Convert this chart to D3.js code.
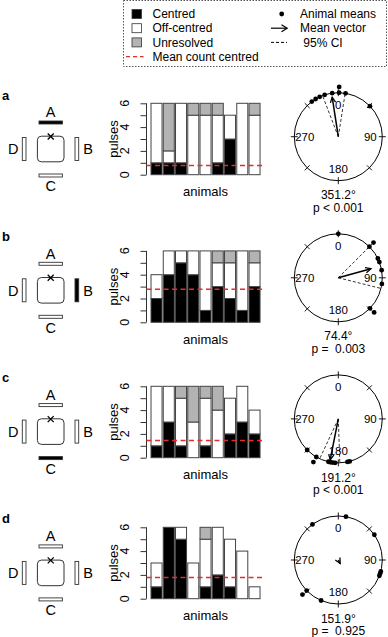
<!DOCTYPE html>
<html><head><meta charset="utf-8">
<script src="https://cdn.jsdelivr.net/npm/d3@7"></script>
<style>body{margin:0;background:#fff} svg{display:block;font-family:"Liberation Sans",Arial,sans-serif}</style>
</head><body><svg id="c" width="388" height="637"></svg>
<script>
// ---------- data ----------
const panelLetters = ["a","b","c","d"];
const animals = [1,2,3,4,5,6,7,8,9];
const yTicks = [0,2,4,6];
const centredA = [1,1,1,0,0,1,3,0,0];
const offA     = [5,1,5,5,5,4,2,6,5];
const unresA   = [0,4,0,1,1,1,0,0,1];
const centredB = [2,4,5,4,1,3,2,1,3];
const offB     = [2,2,1,2,5,2,3,5,2];
const unresB   = [0,0,0,0,0,1,1,0,1];
const centredC = [1,3,1,0,1,0,2,3,2];
const offC     = [5,3,4,3,4,4,3,3,2];
const unresC   = [0,0,1,3,1,2,0,0,0];
const centredD = [1,6,5,0,1,2,1,0,0];
const offD     = [2,0,1,3,4,4,4,4,1];
const unresD   = [0,0,0,0,1,0,0,0,0];
const dirsA = [323,329,335,342,352,1,1,9.5,46];
const dirsB = [0,45,45,64,69,80,98,134,134];
const dirsC = [225,210,210,193,190,187,184,168,165];
const dirsD = [10,55,105,108,111,203,226,226,324];
const meanDir = [351.2,74.4,191.2,151.9];
const meanRho = [0.91,0.77,0.95,0.09];
const ciLo = [339,45,178,null];
const ciHi = [9,104,205,null];
const pLabels = ["p < 0.001","p =  0.003","p < 0.001","p =  0.925"];
const activeBar = ["A","B","C",null];
const circleLabels = [0,90,180,270];
const legendLeft = ["Centred","Off-centred","Unresolved","Mean count centred"];
const legendRight = ["Animal means","Mean vector"," 95% CI"];

const panels = [
  {c:centredA,o:offA,u:unresA,dirs:dirsA},
  {c:centredB,o:offB,u:unresB,dirs:dirsB},
  {c:centredC,o:offC,u:unresC,dirs:dirsC},
  {c:centredD,o:offD,u:unresD,dirs:dirsD}
];

// ---------- layout ----------
const svg = d3.select("#c");
const barY0 = [174.7,322.3,457.7,598.7];
const barH = 71.4;
const circY = i => 136.7 + i*141.1;
const diagY = i => 149 + i*141.3;
const letterY = i => 95 + i*141;
const CX = 338.3, R = 44;
const stroke = "#333";
const grey = "#b3b3b3";

// legend
const lg = svg.append("g");
lg.append("rect").attr("x",123.5).attr("y",0.5).attr("width",263).attr("height",66)
  .attr("fill","none").attr("stroke","#555").attr("stroke-dasharray","1.5,1.5");
const rowY = d3.scaleLinear().domain([0,1]).range([14,28.2]);
const fills = ["#000","#fff",grey];
fills.forEach((f,k)=>{
  lg.append("rect").attr("x",132).attr("y",rowY(k)-4.5).attr("width",9.5).attr("height",9)
    .attr("fill",f).attr("stroke",stroke).attr("stroke-width",0.8);
});
lg.append("line").attr("x1",126).attr("x2",143.5).attr("y1",rowY(3)).attr("y2",rowY(3))
  .attr("stroke","#e82a2a").attr("stroke-width",1.4).attr("stroke-dasharray","4,3");
legendLeft.forEach((t,k)=>{
  lg.append("text").attr("x",152.5).attr("y",rowY(k)).attr("dy","0.35em")
    .attr("font-size",12).text(t);
});
lg.append("circle").attr("cx",281.7).attr("cy",rowY(0)).attr("r",2.4).attr("fill","#000");
lg.append("line").attr("x1",271).attr("x2",287).attr("y1",rowY(1)).attr("y2",rowY(1)).attr("stroke","#000").attr("stroke-width",1.2);
lg.append("path").attr("d",`M281.5,${rowY(1)-3.5}L287.2,${rowY(1)}L281.5,${rowY(1)+3.5}`).attr("fill","none").attr("stroke","#000").attr("stroke-width",1.2);
lg.append("line").attr("x1",271).attr("x2",287).attr("y1",rowY(2)).attr("y2",rowY(2)).attr("stroke","#000").attr("stroke-width",1).attr("stroke-dasharray","3,2");
legendRight.forEach((t,k)=>{
  lg.append("text").attr("x",300).attr("y",rowY(k)).attr("dy","0.35em")
    .attr("font-size",12).style("white-space","pre").text(t);
});

const x = d3.scaleBand().domain(animals).range([150.4,260.65]).paddingInner(0.1).paddingOuter(0.05);
const ang = d3.scaleLinear().domain([0,360]).range([0,2*Math.PI]);
const rad = d3.scaleLinear().domain([0,1]).range([0,R]);

panels.forEach((p,i)=>{
  const g = svg.append("g");
  // panel letter
  g.append("text").attr("x",2).attr("y",letterY(i)).attr("dy","0.35em").attr("font-size",13)
    .attr("font-weight","bold").text(panelLetters[i]);
  // ---- arena diagram ----
  const yc = diagY(i), xc = 50.7;
  const bars = [
    {k:"A",x:xc-11.7,y:yc-28,w:23.4,h:3,lx:xc,ly:yc-37},
    {k:"C",x:xc-11.7,y:yc+25,w:23.4,h:3,lx:xc,ly:yc+37},
    {k:"D",x:22.3,y:yc-11.5,w:3.7,h:23,lx:13.3,ly:yc},
    {k:"B",x:75,y:yc-11.5,w:3.7,h:23,lx:88,ly:yc}
  ];
  bars.forEach(b=>{
    g.append("rect").attr("x",b.x).attr("y",b.y).attr("width",b.w).attr("height",b.h)
      .attr("fill",activeBar[i]===b.k?"#000":"#fff").attr("stroke",stroke).attr("stroke-width",0.9);
    g.append("text").attr("x",b.lx).attr("y",b.ly).attr("dy","0.36em").attr("text-anchor","middle")
      .attr("font-size",14.5).text(b.k);
  });
  g.append("rect").attr("x",xc-13.3).attr("y",yc-12.8).attr("width",26.6).attr("height",25.6)
    .attr("rx",4).attr("fill","none").attr("stroke",stroke).attr("stroke-width",1);
  g.append("path").attr("d",`M${xc-3},${yc-15.5}L${xc+3},${yc-9.5}M${xc+3},${yc-15.5}L${xc-3},${yc-9.5}`)
    .attr("stroke","#000").attr("stroke-width",1.3);

  // ---- bar chart ----
  const y = d3.scaleLinear().domain([0,6]).range([barY0[i], barY0[i]-barH]);
  const stackData = animals.map((a,j)=>({a, c:p.c[j], o:p.o[j], u:p.u[j]}));
  const series = d3.stack().keys(["c","o","u"])(stackData);
  const segFill = {c:"#000",o:"#fff",u:grey};
  series.forEach(s=>{
    g.append("g").selectAll("rect").data(s.filter(d=>d[1]>d[0])).join("rect")
      .attr("x",d=>x(d.data.a)).attr("width",x.bandwidth())
      .attr("y",d=>y(d[1])).attr("height",d=>y(d[0])-y(d[1]))
      .attr("fill",segFill[s.key]).attr("stroke","#444").attr("stroke-width",1);
  });
  const ax = g.append("g").attr("transform","translate(146.5,0)")
    .call(d3.axisLeft(y).tickValues(d3.range(0,7)).tickSize(6).tickFormat(""));
  ax.select(".domain").attr("d",`M0,${y(0)}V${y(6)}`).attr("stroke","#333");
  ax.selectAll(".tick line").attr("stroke","#333");
  yTicks.forEach(t=>{
    g.append("text").attr("transform",`translate(129,${y(t)}) rotate(-90)`)
      .attr("text-anchor","middle").attr("font-size",12.5).text(t);
  });
  g.append("text").attr("transform",`translate(118,${(y(0)+y(6))/2}) rotate(-90)`)
    .attr("text-anchor","middle").attr("font-size",13).text("pulses");
  g.append("text").attr("x",205.5).attr("y",y(0)+17).attr("dy","0.35em").attr("text-anchor","middle")
    .attr("font-size",13).text("animals");
  const mc = d3.mean(p.c);
  g.append("line").attr("x1",146.5).attr("x2",263).attr("y1",y(mc)).attr("y2",y(mc))
    .attr("stroke","#e82a2a").attr("stroke-width",1.5).attr("stroke-dasharray","5,3.5");

  // ---- circular plot ----
  const cy = circY(i);
  const cg = g.append("g").attr("transform",`translate(${CX},${cy})`);
  const pt = (deg, r) => [r*Math.sin(ang(deg)), -r*Math.cos(ang(deg))];
  cg.append("circle").attr("r",R).attr("fill","none").attr("stroke","#000").attr("stroke-width",1);
  d3.range(0,360,45).forEach(a=>{
    const p1 = pt(a,R-3.5), p2 = pt(a,R+3.5);
    cg.append("line").attr("x1",p1[0]).attr("y1",p1[1]).attr("x2",p2[0]).attr("y2",p2[1])
      .attr("stroke","#000").attr("stroke-width",0.9);
  });
  circleLabels.forEach(a=>{
    const q = pt(a, a===270?33.5:32);
    cg.append("text").attr("x",q[0]).attr("y",q[1]).attr("dy","0.36em").attr("text-anchor","middle")
      .attr("font-size",11.5).text(a);
  });
  // CI
  if (ciLo[i]!==null) {
    [ciLo[i],ciHi[i]].forEach(a=>{
      const q = pt(a,R);
      cg.append("line").attr("x1",0).attr("y1",0).attr("x2",q[0]).attr("y2",q[1])
        .attr("stroke","#000").attr("stroke-width",0.8).attr("stroke-dasharray","3,2");
    });
  }
  // dots stacked
  const seen = {};
  p.dirs.forEach(a=>{
    const key = Math.round(a);
    const lvl = seen[key]||0; seen[key]=lvl+1;
    const q = pt(a, R + lvl*5.8);
    cg.append("circle").attr("cx",q[0]).attr("cy",q[1]).attr("r",2.4).attr("fill","#000");
  });
  // mean vector
  const tip = pt(meanDir[i], rad(meanRho[i]));
  cg.append("line").attr("x1",0).attr("y1",0).attr("x2",tip[0]).attr("y2",tip[1])
    .attr("stroke","#000").attr("stroke-width",1.5);
  const th = ang(meanDir[i]);
  const hl = 6, ha = 0.45;
  const h1 = [tip[0]-hl*Math.sin(th-ha), tip[1]+hl*Math.cos(th-ha)];
  const h2 = [tip[0]-hl*Math.sin(th+ha), tip[1]+hl*Math.cos(th+ha)];
  cg.append("path").attr("d",`M${h1}L${tip}L${h2}`).attr("fill","none").attr("stroke","#000").attr("stroke-width",1.3);
  cg.append("text").attr("x",0).attr("y",58.5).attr("dy","0.35em").attr("text-anchor","middle")
    .attr("font-size",12).text(meanDir[i].toFixed(1)+"°");
  cg.append("text").attr("x",0).attr("y",71).attr("dy","0.35em").attr("text-anchor","middle")
    .attr("font-size",12).style("white-space","pre").text(pLabels[i]);
});
</script></body></html>
